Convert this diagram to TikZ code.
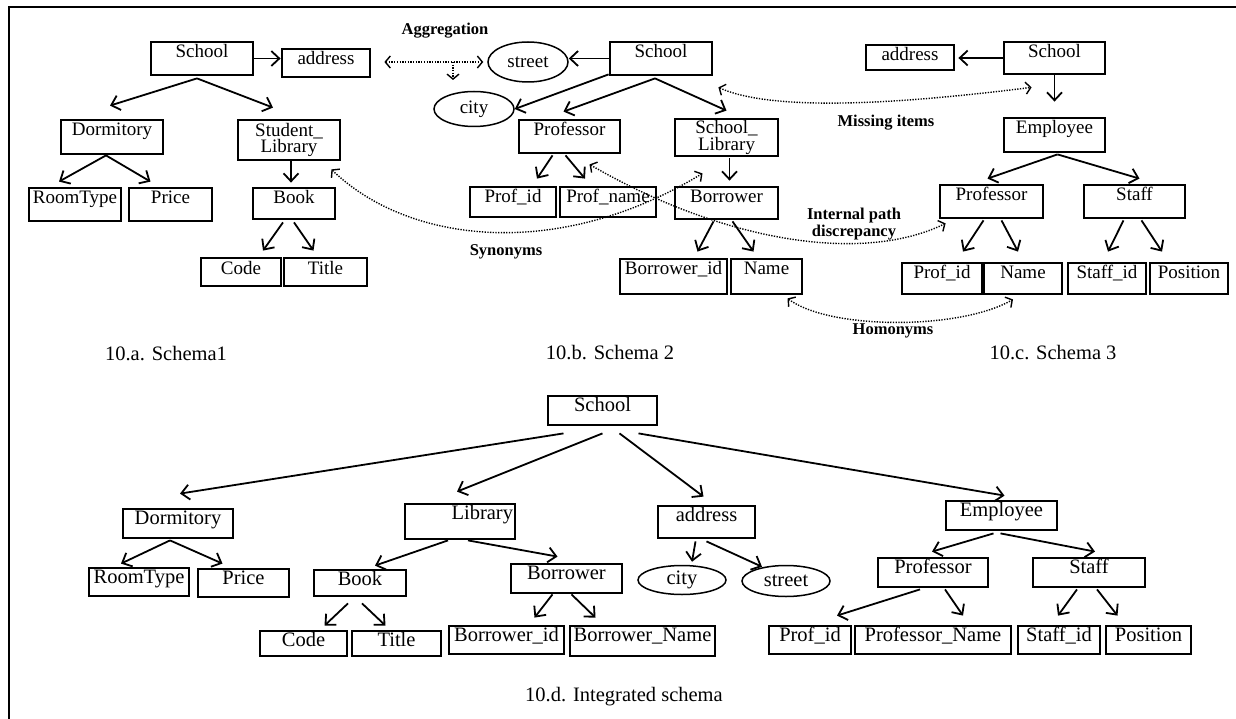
\documentclass[tikz,border=0pt]{standalone}
\usepackage{fontspec}
\setmainfont{Liberation Serif}
\usetikzlibrary{arrows.meta,shapes.geometric}

\newcommand{\boxfont}{\fontsize{19}{13}\selectfont}
\newcommand{\intfont}{\fontsize{20.5}{15}\selectfont}
\newcommand{\notefont}{\fontsize{16.5}{17}\selectfont\bfseries}
\newcommand{\capfont}{\fontsize{20.5}{22}\selectfont}

\begin{document}
\begin{tikzpicture}[x=1pt, y=-1pt,
  box/.style={draw, line width=2.8pt, inner xsep=1pt, inner ysep=0pt, font=\boxfont},
  tbox/.style 2 args={box, minimum width=#1, text height=16pt, text depth=#2},
  ibox/.style 2 args={box, font=\intfont, minimum width=#1, text height=15pt, text depth=#2},
  oval/.style={draw, ellipse, line width=1.5pt, inner sep=0pt, font=\boxfont},
  arr/.style={line width=1.8pt, -{Straight Barb[length=8pt,width=15pt]}},
  dotline/.style={line width=1.4pt, dash pattern=on 1.3pt off 1.4pt},
  dotarr/.style={dotline, {Straight Barb[length=5pt,width=12pt]}-{Straight Barb[length=5pt,width=12pt]}},
  note/.style={font=\notefont, align=center},
  captext/.style={font=\capfont}]

\useasboundingbox (0,0) rectangle (1236,719);
\draw[line width=2.6pt] (9,719) -- (9,7) -- (1236,7);

% schema 1
\node[tbox={102pt}{17pt}] (s1) at (202,58.5) {School};
\node[tbox={88pt}{12pt}] (a1) at (326,63) {address};
\node[tbox={102pt}{18pt}] (d1) at (112,137) {Dormitory};
\node[box, minimum width=102pt, minimum height=40pt, align=center] (l1) at (289,140) {Student\_\\Library};
\node[tbox={92pt}{17pt}] (rt1) at (75,204.5) {RoomType};
\node[tbox={83pt}{17pt}] (pr1) at (170.5,204.5) {Price};
\node[tbox={82pt}{15pt}] (b1) at (294,203.5) {Book};
\node[tbox={80pt}{12pt}] (co1) at (241,272) {Code};
\node[tbox={83pt}{12pt}] (ti1) at (325.5,272) {Title};

\draw[arr] (s1.east) -- (s1.east -| a1.west);
\draw[arr] ([shift={(-5,2)}]s1.south) -- ([shift={(-2,-13)}]d1.north);
\draw[arr] ([shift={(-5,2)}]s1.south) -- ([shift={(-16,-11)}]l1.north);
\draw[arr] ([shift={(-6,0)}]d1.south) -- ([shift={(-16,-5)}]rt1.north);
\draw[arr] ([shift={(-6,0)}]d1.south) -- ([shift={(-20,-5)}]pr1.north);
\draw[arr] ([shift={(2,0)}]l1.south) -- ([shift={(-3,-4)}]b1.north);
\draw[arr] ([shift={(-11,2)}]b1.south) -- ([shift={(22,-6)}]co1.north);
\draw[arr] ([shift={(0,2)}]b1.south) -- ([shift={(-12,-6)}]ti1.north);

% schema 2
\node[oval, minimum width=80pt, minimum height=40pt] (st2) at (528,62) {street};
\node[oval, minimum width=80pt, minimum height=35pt] (ci2) at (474,109) {city};
\node[tbox={102pt}{17pt}] (s2) at (661,58.5) {School};
\node[tbox={101pt}{17pt}] (p2) at (569.5,136.5) {Professor};
\node[box, minimum width=103pt, minimum height=37pt, align=center] (sl2) at (726.5,137.5) {School\_\\Library};
\node[tbox={86pt}{14pt}] (pi2) at (513,202) {Prof\_id};
\node[tbox={96pt}{14pt}] (pn2) at (608,202) {Prof\_name};
\node[tbox={103pt}{16pt}] (bo2) at (726.5,203) {Borrower};
\node[tbox={107pt}{19pt}] (bi2) at (673.5,276.5) {Borrower\_id};
\node[tbox={71pt}{19pt}] (na2) at (766.5,276.5) {Name};

\draw[arr] (s2.west) -- (s2.west -| st2.east);
\draw[arr] ([shift={(0,-2)}]s2.south west) -- (ci2.east);
\draw[arr] ([shift={(-6,2)}]s2.south) -- ([shift={(-6,-7)}]p2.north);
\draw[arr] ([shift={(-6,2)}]s2.south) -- ([shift={(0,-7)}]sl2.north);
\draw[arr] ([shift={(-17,1)}]p2.south) -- ([shift={(24,-7)}]pi2.north);
\draw[arr] ([shift={(-4,1)}]p2.south) -- ([shift={(-23,-7)}]pn2.north);
\draw[arr] ([shift={(3,1)}]sl2.south) -- ([shift={(3,-5)}]bo2.north);
\draw[arr] ([shift={(-13,1)}]bo2.south) -- ([shift={(24,-6)}]bi2.north);
\draw[arr] ([shift={(6,1)}]bo2.south) -- ([shift={(-13,-6)}]na2.north);

% schema 3
\node[tbox={88pt}{9pt}] (a3) at (910,57.5) {address};
\node[tbox={101pt}{16pt}] (s3) at (1054.5,58) {School};
\node[tbox={101pt}{18pt}] (e3) at (1054.5,135) {Employee};
\node[tbox={103pt}{17pt}] (p3) at (991.5,201.5) {Professor};
\node[tbox={101pt}{17pt}] (sf3) at (1134.5,201.5) {Staff};
\node[tbox={80pt}{15pt}] (pi3) at (942,278.5) {Prof\_id};
\node[tbox={78pt}{15pt}] (na3) at (1023,278.5) {Name};
\node[tbox={78pt}{15pt}] (si3) at (1107,278.5) {Staff\_id};
\node[tbox={78pt}{15pt}] (po3) at (1189,278.5) {Position};

\draw[arr, shorten >=3pt] (s3.west) -- (s3.west -| a3.east);
\draw[arr] (s3.south) -- ([shift={(0,-15)}]e3.north);
\draw[arr] ([shift={(3,1)}]e3.south) -- ([shift={(-4,-5)}]p3.north);
\draw[arr] ([shift={(3,1)}]e3.south) -- ([shift={(5,-5)}]sf3.north);
\draw[arr] ([shift={(-8,1)}]p3.south) -- ([shift={(21,-10)}]pi3.north);
\draw[arr] ([shift={(10,1)}]p3.south) -- ([shift={(-5,-10)}]na3.north);
\draw[arr] ([shift={(-11,1)}]sf3.south) -- ([shift={(1,-10)}]si3.north);
\draw[arr] ([shift={(7,1)}]sf3.south) -- ([shift={(-27,-10)}]po3.north);

% conflicts between the schemas
\node[note] (agl) at (445,31) {Aggregation};
\draw[dotarr] ([shift={(13,-1)}]a1.east) -- ([shift={(-4,0)}]st2.west);
\coordinate (agg) at (453,62);
\draw[dotline, -{Straight Barb[length=5pt,width=12pt]}] (agg) -- ++(0,18);

\draw[dotarr] ([shift={(-10,8)}]l1.south east) .. controls (410,245) and (560,260) .. ([shift={(-24,16)}]sl2.south);
\node[note] (syn) at (506,252) {Synonyms};

\draw[dotarr] ([shift={(5,11)}]s2.south east) .. controls (780,115) and (930,100) .. ([shift={(29,12)}]s3.south west);
\node[note] (mis) at (886,123) {Missing items};

\draw[dotarr] ([shift={(20,10)}]p2.south) .. controls (720,240) and (860,265) .. ([shift={(7,4)}]p3.south west);
\node[note] (ipd) at (854,224) {Internal path\\discrepancy};

\draw[dotarr] ([shift={(21,3)}]na2.south) .. controls (830,330) and (960,330) .. ([shift={(-10,4)}]na3.south);
\node[note] (hom) at (893,331) {Homonyms};

\node[captext] (ca) at (166,354) {10.a. Schema1};
\node[captext] (cb) at (610,353) {10.b. Schema 2};
\node[captext] (cc) at (1053,353) {10.c. Schema 3};

% integrated schema
\node[ibox={109pt}{14pt}] (s4) at (602.5,410.5) {School};
\node[ibox={110pt}{14pt}] (d4) at (178,523.5) {Dormitory};
\node[ibox={110pt}{20pt}, text width=106pt, align=right] (l4) at (460,521.5) {Library};
\node[ibox={97pt}{17pt}] (ad4) at (706.5,522) {address};
\node[ibox={111pt}{14pt}] (e4) at (1001.5,515.5) {Employee};
\node[ibox={100pt}{13pt}] (rt4) at (139,582) {RoomType};
\node[ibox={91pt}{13pt}] (pr4) at (243.5,583) {Price};
\node[ibox={92pt}{11pt}] (b4) at (360,583) {Book};
\node[ibox={111pt}{14pt}] (bo4) at (566.5,578.5) {Borrower};
\node[oval, font=\intfont, minimum width=88pt, minimum height=29pt] (ci4) at (682,580) {city};
\node[oval, font=\intfont, minimum width=88pt, minimum height=31pt] (st4) at (786,581) {street};
\node[ibox={110pt}{14pt}] (p4) at (933,572.5) {Professor};
\node[ibox={112pt}{14pt}] (sf4) at (1089,572.5) {Staff};
\node[ibox={87pt}{10pt}] (co4) at (303.5,643.5) {Code};
\node[ibox={89pt}{10pt}] (ti4) at (396.5,643.5) {Title};
\node[ibox={115pt}{13pt}] (bi4) at (506.5,640) {Borrower\_id};
\node[ibox={145pt}{15pt}] (bn4) at (642.5,641) {Borrower\_Name};
\node[ibox={82pt}{13pt}] (pi4) at (810,640) {Prof\_id};
\node[ibox={156pt}{13pt}] (pn4) at (933,640) {Professor\_Name};
\node[ibox={82pt}{13pt}] (si4) at (1059,640) {Staff\_id};
\node[ibox={85pt}{13pt}] (po4) at (1148.5,640) {Position};

\draw[arr] ([shift={(-39,7)}]s4.south) -- ([shift={(2,-14)}]d4.north);
\draw[arr] ([shift={(0,7)}]s4.south) -- ([shift={(-3,-11)}]l4.north);
\draw[arr] ([shift={(17,7)}]s4.south) -- ([shift={(-3,-8)}]ad4.north);
\draw[arr] ([shift={(36,7)}]s4.south) -- ([shift={(3,-4)}]e4.north);
\draw[arr] ([shift={(-8,1)}]d4.south) -- ([shift={(-18,-3)}]rt4.north);
\draw[arr] ([shift={(-8,1)}]d4.south) -- ([shift={(-21,-4)}]pr4.north);
\draw[arr] ([shift={(-12,0)}]l4.south) -- ([shift={(15,-3)}]b4.north);
\draw[arr] ([shift={(8,0)}]l4.south) -- ([shift={(-9,-6)}]bo4.north);
\draw[arr] ([shift={(-12,6)}]b4.south) -- ([shift={(21,-4)}]co4.north);
\draw[arr] ([shift={(2,6)}]b4.south) -- ([shift={(-11,-4)}]ti4.north);
\draw[arr] ([shift={(-14,0)}]bo4.south) -- ([shift={(28,-7)}]bi4.north);
\draw[arr] ([shift={(5,0)}]bo4.south) -- ([shift={(-47,-7)}]bn4.north);
\draw[arr] ([shift={(-11,2)}]ad4.south) -- ([shift={(10,-3)}]ci4.north);
\draw[arr] ([shift={(0,2)}]ad4.south) -- ([shift={(-24,2)}]st4.north);
\draw[arr] ([shift={(-8,2)}]e4.south) -- ([shift={(-1,-5)}]p4.north);
\draw[arr] ([shift={(-1,2)}]e4.south) -- ([shift={(6,-5)}]sf4.north);
\draw[arr] ([shift={(-13,1)}]p4.south) -- ([shift={(27,-9)}]pi4.north);
\draw[arr] ([shift={(12,1)}]p4.south) -- ([shift={(30,-9)}]pn4.north);
\draw[arr] ([shift={(-12,1)}]sf4.south) -- ([shift={(-1,-9)}]si4.north);
\draw[arr] ([shift={(8,1)}]sf4.south) -- ([shift={(-31,-9)}]po4.north);

\node[captext] (cd) at (624,697) {10.d. Integrated schema};

\end{tikzpicture}
\end{document}
